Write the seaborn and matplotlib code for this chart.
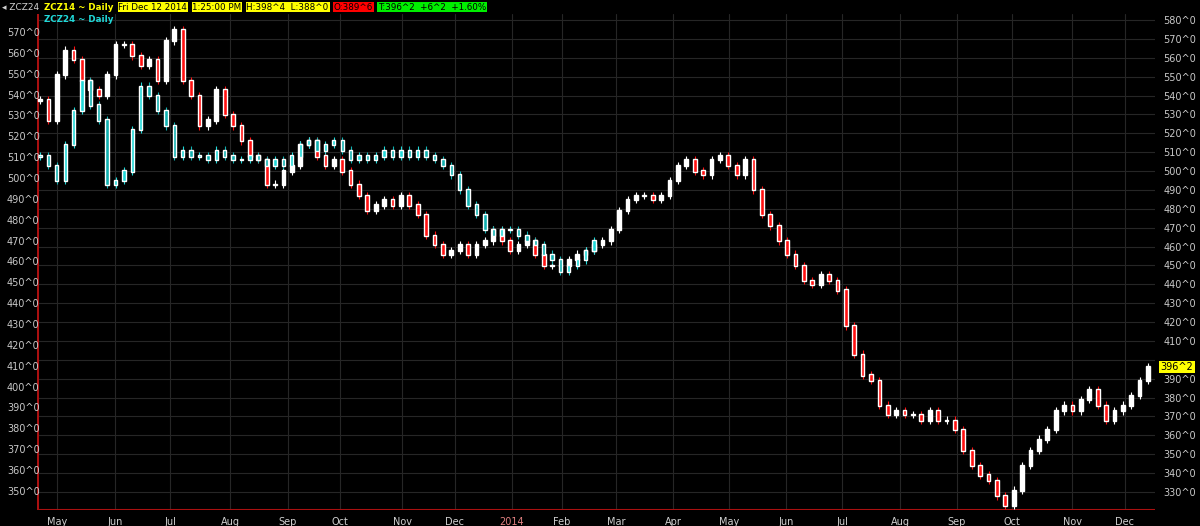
import matplotlib
matplotlib.use("Agg")
import matplotlib.pyplot as plt
import numpy as np
import seaborn as sns

# ZCZ14 daily closes (sampled about every 3 trading days)
zcz14 = [537.6, 527, 551, 564, 559, 548, 543, 540, 551, 567, 567, 561, 556, 559, 548, 569, 575,
         548, 540, 524, 527, 543, 530, 524, 516, 508, 506, 493, 493, 500, 503, 514, 516, 508,
         503, 506, 500, 493, 487, 479, 482, 485, 482, 487, 482, 477, 466, 461, 456, 458, 461,
         456, 461, 463, 469, 463, 458, 461, 463, 456, 450, 450, 450, 453, 456, 458, 461, 463,
         469, 479, 485, 487, 487, 485, 487, 495, 503, 506, 500, 498, 506, 508, 503, 498, 506,
         490, 477, 471, 463, 456, 450, 442, 440, 445, 442, 437, 418, 403, 392, 389, 376, 371,
         373, 371, 371, 368, 373, 368, 368, 363, 352, 344, 339, 336, 328, 323, 331, 344, 352,
         358, 363, 373, 376, 373, 379, 384, 376, 368, 373, 376, 381, 389, 396.2]
# ZCZ24 daily closes, same sampling
zcz24 = [508, 503, 495, 514, 532, 548, 535, 527, 493, 495, 500, 522, 545, 540, 532, 524, 508,
         511, 508, 508, 506, 511, 508, 506, 506, 508, 506, 503, 506, 503, 508, 514, 516, 511,
         514, 516, 511, 506, 508, 506, 508, 511, 508, 511, 508, 511, 508, 506, 503, 498, 490,
         482, 477, 469, 466, 469, 469, 466, 463, 461, 456, 453, 447, 450, 453, 458, 463]
months = ["May", "Jun", "Jul", "Aug", "Sep", "Oct", "Nov", "Dec", "2014", "Feb", "Mar", "Apr",
          "May", "Jun", "Jul", "Aug", "Sep", "Oct", "Nov", "Dec"]
month_px = [57, 115, 170, 230, 288, 340, 402, 455, 512, 562, 616, 673, 729, 786, 842, 900,
            957, 1012, 1072, 1125]
right_ticks = list(range(330, 581, 10))
left_ticks = list(range(350, 571, 10))

sns.set_style("dark")
plt.rcParams['font.family'] = ['DejaVu Sans']
fig = plt.figure(figsize=(12, 5.26), dpi=100, facecolor="black")
ax = fig.add_axes([37/1200, 1-510/526, (1155-37)/1200, (510-14)/526])
ax.set_facecolor("black")

step = (1148 - 40) / (len(zcz14) - 1)


def candles(closes, up, down, wick=2.0, width=0.45):
    c = np.array(closes, dtype=float)
    o = np.r_[c[0], c[:-1]]
    x = np.arange(len(c))
    hi = np.maximum(o, c) + wick
    lo = np.minimum(o, c) - wick
    cols = [up if cc >= oo else down for oo, cc in zip(o, c)]
    ax.vlines(x, lo, hi, colors=cols, linewidth=0.8, zorder=3)
    ax.bar(x, np.abs(c - o) + 0.6, bottom=np.minimum(o, c) - 0.3, width=width,
           color=cols, zorder=4)


candles(zcz14, "white", "#ff1010")
candles(zcz24, "#20d8d8", "#10b0b0", width=0.4)

to_idx = lambda px: (px - 40) / step
ax.set_xlim(to_idx(37), to_idx(1155))
ax.set_ylim(580 - 490/1.888, 580 + 6/1.888)
ax.set_xticks([to_idx(p) for p in month_px])
ax.set_xticklabels(months)
ax.tick_params(axis="x", colors="#cc2020", labelsize=7, length=3, pad=2)
for lbl in ax.get_xticklabels():
    lbl.set_color("#e08080" if lbl.get_text() == "2014" else "#d0d0d0")
ax.yaxis.tick_right()
ax.set_yticks(right_ticks)
ax.set_yticklabels([f"{v}^0" if v != 400 else "" for v in right_ticks])
ax.tick_params(axis="y", colors="#c8c8c8", labelsize=7, length=0, pad=6)
ax.grid(True, color="#262626", linewidth=0.8)
for s in ax.spines.values():
    s.set_visible(False)
ax.axvline(to_idx(37.5), color="#aa1010", lw=1.5)
ax.axhline(ax.get_ylim()[0], color="#aa1010", lw=1.5)

# left scale labels (ZCZ24)
for v in left_ticks:
    ypix = 33 + (570 - v) * 2.086
    fig.text(7/1200, 1 - ypix/526, f"{v}^0", color="#c8c8c8", fontsize=7, va="center")

# last price tag
ylo, yhi = ax.get_ylim()
ax.text(1.005, (396.2 - ylo) / (yhi - ylo), "396^2",
        transform=ax.transAxes, fontsize=7, va="center", color="black",
        bbox=dict(facecolor="yellow", edgecolor="none", pad=1))

# header: chain the boxes one after another
renderer = fig.canvas.get_renderer()
fig.text(2/1200, 1-7/526, "◂ ZCZ24", color="#d0d0d0", fontsize=6.5, va="center")
header = [("ZCZ14 ~ Daily", "yellow", None), ("Fri Dec 12 2014", "black", "yellow"),
          ("1:25:00 PM", "black", "yellow"), ("H:398^4  L:388^0", "black", "yellow"),
          ("O:389^6", "black", "red"), ("T:396^2  +6^2  +1.60%", "black", "#00ee00")]
xpix = 44
for t, col, bg in header:
    kw = dict(bbox=dict(facecolor=bg, edgecolor="none", pad=0.6)) if bg else dict(fontweight="bold")
    txt = fig.text(xpix/1200, 1-7/526, t, color=col, fontsize=6.3, va="center", **kw)
    xpix = txt.get_window_extent(renderer).x1 + 5
fig.text(44/1200, 1-20/526, "ZCZ24 ~ Daily", color="#20d8d8", fontsize=6.3, va="center",
         fontweight="bold")

fig.savefig("out.png", dpi=100, facecolor="black")
